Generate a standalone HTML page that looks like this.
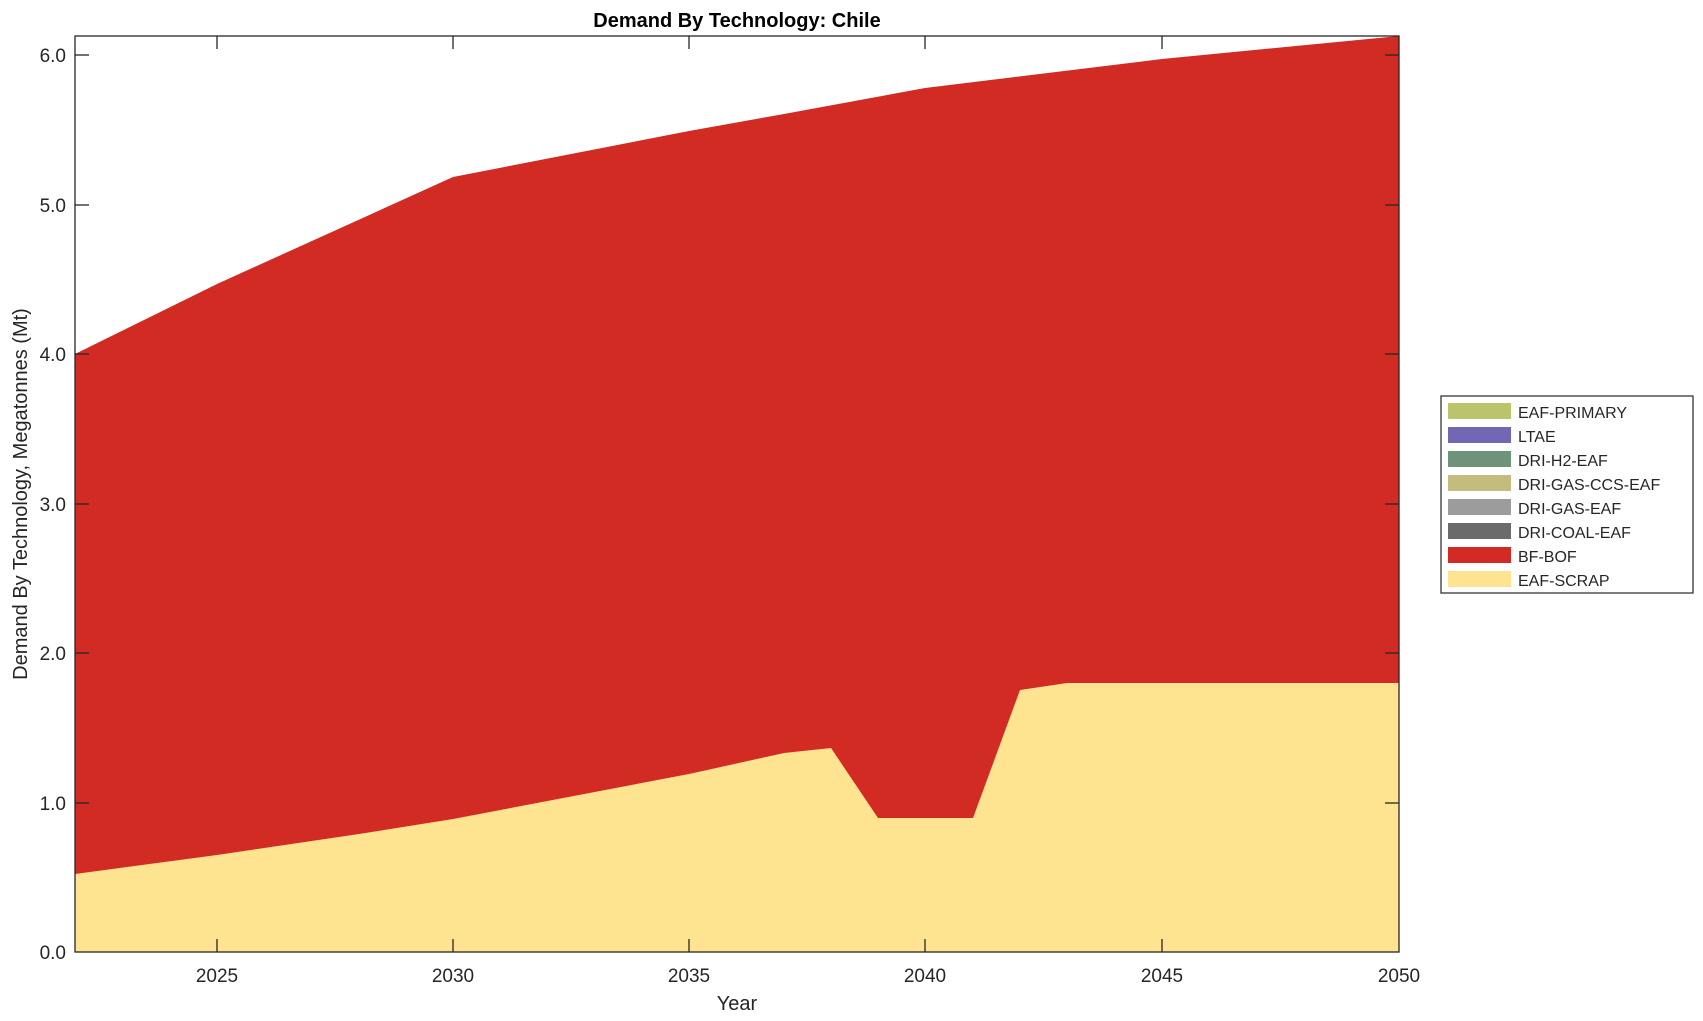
<!DOCTYPE html>
<html><head><meta charset="utf-8"><style>body{margin:0;background:#fff}svg{display:block}text{font-family:"Liberation Sans",Helvetica,Arial,sans-serif;fill:#262626}</style></head><body>
<svg width="1703" height="1021" viewBox="0 0 1703 1021" xmlns="http://www.w3.org/2000/svg">
<rect width="1703" height="1021" fill="#fff"/>
<polygon fill="#d22b24" points="75,354 217,284 453,177 689,131 784,114 925,88 1162,59 1399,36 1399,952 75,952"/>
<polygon fill="#fee491" points="75,874 217,855 359,834 453,819 689,774 784,753 831,748 878,818 973,818 1020,690 1067,683 1399,683 1399,952 75,952"/>
<rect x="75" y="36" width="1324" height="916" fill="none" stroke="#262626" stroke-width="1.3"/>
<g stroke="#262626" stroke-width="1.3">
<line x1="217" y1="952" x2="217" y2="939"/><line x1="453" y1="952" x2="453" y2="939"/><line x1="689" y1="952" x2="689" y2="939"/><line x1="925" y1="952" x2="925" y2="939"/><line x1="1162" y1="952" x2="1162" y2="939"/>
<line x1="217" y1="36" x2="217" y2="49"/><line x1="453" y1="36" x2="453" y2="49"/><line x1="689" y1="36" x2="689" y2="49"/><line x1="925" y1="36" x2="925" y2="49"/><line x1="1162" y1="36" x2="1162" y2="49"/>
<line x1="75" y1="55" x2="89" y2="55"/><line x1="75" y1="205" x2="89" y2="205"/><line x1="75" y1="354" x2="89" y2="354"/><line x1="75" y1="504" x2="89" y2="504"/><line x1="75" y1="653" x2="89" y2="653"/><line x1="75" y1="803" x2="89" y2="803"/>
<line x1="1399" y1="55" x2="1385" y2="55"/><line x1="1399" y1="205" x2="1385" y2="205"/><line x1="1399" y1="354" x2="1385" y2="354"/><line x1="1399" y1="504" x2="1385" y2="504"/><line x1="1399" y1="653" x2="1385" y2="653"/><line x1="1399" y1="803" x2="1385" y2="803"/>
</g>
<g font-size="19" text-anchor="end">
<text x="66" y="62">6.0</text><text x="66" y="212">5.0</text><text x="66" y="361">4.0</text><text x="66" y="511">3.0</text><text x="66" y="660">2.0</text><text x="66" y="810">1.0</text><text x="66" y="959">0.0</text>
</g>
<g font-size="19" text-anchor="middle">
<text x="217" y="982">2025</text><text x="453" y="982">2030</text><text x="689" y="982">2035</text><text x="925" y="982">2040</text><text x="1162" y="982">2045</text><text x="1399" y="982">2050</text>
</g>
<text x="737" y="1010" font-size="20" text-anchor="middle">Year</text>
<text transform="translate(27,494) rotate(-90)" font-size="20" text-anchor="middle">Demand By Technology, Megatonnes (Mt)</text>
<text x="737" y="27" font-size="20" font-weight="bold" text-anchor="middle" style="fill:#000">Demand By Technology: Chile</text>
<rect x="1441" y="396" width="252" height="197" fill="#fff" stroke="#262626" stroke-width="1.2"/>
<g font-size="16">
<rect x="1448" y="403" width="63" height="16" fill="#bcc46b"/><text x="1518" y="418">EAF-PRIMARY</text>
<rect x="1448" y="427" width="63" height="16" fill="#7167b4"/><text x="1518" y="442">LTAE</text>
<rect x="1448" y="451" width="63" height="16" fill="#6f937a"/><text x="1518" y="466">DRI-H2-EAF</text>
<rect x="1448" y="475" width="63" height="16" fill="#c4bb7f"/><text x="1518" y="490">DRI-GAS-CCS-EAF</text>
<rect x="1448" y="499" width="63" height="16" fill="#9c9c9c"/><text x="1518" y="514">DRI-GAS-EAF</text>
<rect x="1448" y="523" width="63" height="16" fill="#6b6b6b"/><text x="1518" y="538">DRI-COAL-EAF</text>
<rect x="1448" y="547" width="63" height="16" fill="#d22b24"/><text x="1518" y="562">BF-BOF</text>
<rect x="1448" y="571" width="63" height="16" fill="#fee491"/><text x="1518" y="586">EAF-SCRAP</text>
</g>
</svg>
</body></html>
